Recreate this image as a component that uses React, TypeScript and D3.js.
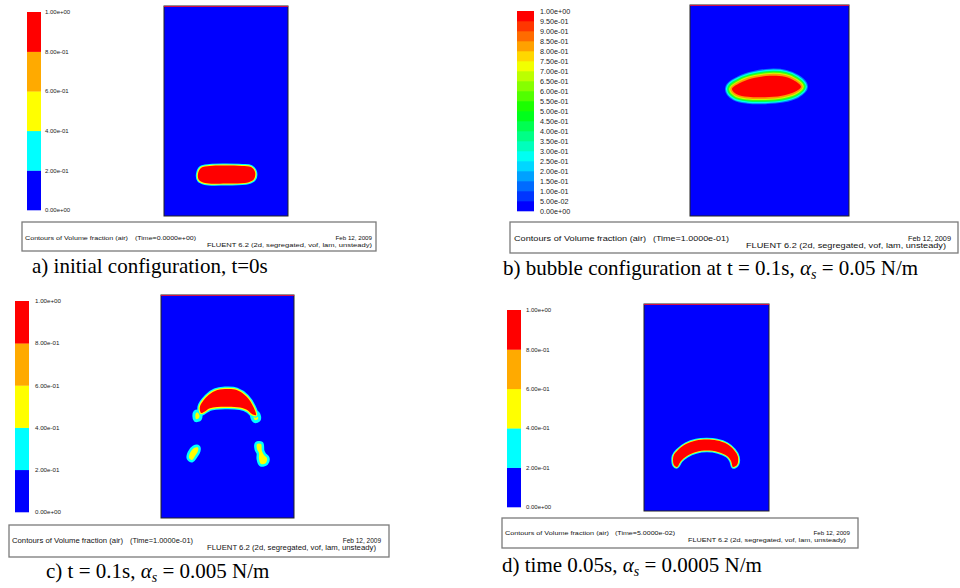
import React from "react";
import * as d3 from "d3";

// colour-bar levels (volume fraction of air)
const levels5 = [0, 0.2, 0.4, 0.6, 0.8, 1.0];
const levels20 = [
  0, 0.05, 0.1, 0.15, 0.2, 0.25, 0.3, 0.35, 0.4, 0.45, 0.5,
  0.55, 0.6, 0.65, 0.7, 0.75, 0.8, 0.85, 0.9, 0.95, 1.0,
];
const colors5 = ["#0000ff", "#00ffff", "#ffff00", "#ffaa00", "#ff0000"];

const timeLabels = ["0.0000e+00", "1.0000e-01", "1.0000e-01", "5.0000e-02"];

// bubble outlines (air fraction ~1), as fractions of domain width / height, y up
const bubbleA: [number, number][] = [
  [0.274, 0.2], [0.298, 0.229], [0.371, 0.238], [0.5, 0.24], [0.629, 0.238],
  [0.702, 0.233], [0.734, 0.21], [0.726, 0.176], [0.677, 0.16], [0.5, 0.155],
  [0.331, 0.157], [0.282, 0.171],
];
const bubbleB: [number, number][] = [
  [0.264, 0.602], [0.327, 0.635], [0.409, 0.655], [0.503, 0.665], [0.597, 0.66],
  [0.66, 0.64], [0.698, 0.613], [0.66, 0.589], [0.577, 0.57], [0.472, 0.563],
  [0.365, 0.565], [0.294, 0.577],
];
const capC: [number, number][] = [
  [0.301, 0.471], [0.293, 0.499], [0.344, 0.544], [0.406, 0.57], [0.481, 0.578],
  [0.569, 0.574], [0.644, 0.544], [0.694, 0.499], [0.714, 0.462], [0.684, 0.466],
  [0.654, 0.482], [0.594, 0.495], [0.481, 0.499], [0.368, 0.492], [0.323, 0.475],
];
const tailLeftC: [number, number][] = [
  [0.263, 0.471], [0.286, 0.471], [0.286, 0.448], [0.263, 0.444],
];
const tailRightC: [number, number][] = [
  [0.692, 0.466], [0.722, 0.466], [0.729, 0.444], [0.707, 0.439],
];
const dropLeftC: [number, number][] = [
  [0.211, 0.269], [0.218, 0.291], [0.248, 0.314], [0.278, 0.316], [0.278, 0.3],
  [0.256, 0.278], [0.233, 0.26],
];
const dropRightC: [number, number][] = [
  [0.722, 0.332], [0.752, 0.332], [0.759, 0.3], [0.774, 0.283], [0.797, 0.269],
  [0.789, 0.247], [0.752, 0.242], [0.737, 0.265], [0.737, 0.291], [0.722, 0.309],
];
const arcD: [number, number][] = [
  [0.24, 0.222], [0.236, 0.266], [0.272, 0.295], [0.336, 0.324], [0.416, 0.341],
  [0.502, 0.345], [0.584, 0.341], [0.664, 0.324], [0.72, 0.295], [0.752, 0.261],
  [0.744, 0.222], [0.712, 0.213], [0.696, 0.242], [0.664, 0.266], [0.592, 0.285],
  [0.504, 0.292], [0.416, 0.285], [0.344, 0.266], [0.296, 0.242], [0.264, 0.213],
];

const rainbow = (t: number) => d3.hsl(240 * (1 - t), 1, 0.5).formatHex();

const fmt = (v: number) => {
  const [m, e] = v.toExponential(2).split("e");
  const n = +e;
  return `${m}e${n < 0 ? "-" : "+"}${String(Math.abs(n)).padStart(2, "0")}`;
};

const sans = "Liberation Sans, Arial, sans-serif";
const serif = "Liberation Serif, Times New Roman, serif";

const ring5 = (outer: number, inner: number) => [
  { color: "#00ffff", w: outer },
  { color: "#ffff00", w: inner },
];
const cyanRing = (w: number) => [{ color: "#00ffff", w }];

const panels = [
  {
    levels: levels5, fine: false, time: timeLabels[0],
    cbar: { x: 27, y: 12, w: 14, h: 198, lx: 45, fs: 6 },
    dom: { x: 164, y: 6, w: 124, h: 210 },
    foot: { x: 22, y: 222, w: 354, h: 29, fs: 6.2, b1: 239.5, b2: 246.5,
      cx: 25, cl: 103, tx: 135, tl: 61, fr: 372, fx: 207, fl: 165 },
    cap: { x: 32, y: 273, pre: "a) initial configuration, t=0s", post: null as string | null },
    bubbles: [{ pts: bubbleA, rings: ring5(4, 2), core: "#ff0000" }],
  },
  {
    levels: levels20, fine: true, time: timeLabels[1],
    cbar: { x: 517, y: 11, w: 17, h: 200, lx: 540, fs: 7.2 },
    dom: { x: 690, y: 5, w: 159, h: 211 },
    foot: { x: 510, y: 222, w: 448, h: 31, fs: 7.3, b1: 240.5, b2: 248,
      cx: 514, cl: 132, tx: 653, tl: 76, fr: 951, fx: 746, fl: 200 },
    cap: { x: 503, y: 275, pre: "b) bubble configuration at t = 0.1s, ", post: " = 0.05 N/m" },
    bubbles: [{
      pts: bubbleB,
      rings: [
        { color: rainbow(0.12), w: 14 },
        { color: rainbow(0.27), w: 12 },
        { color: rainbow(0.42), w: 9.5 },
        { color: rainbow(0.57), w: 7.5 },
        { color: rainbow(0.7), w: 5.5 },
        { color: rainbow(0.85), w: 3.5 },
      ],
      core: "#ff0000",
    }],
  },
  {
    levels: levels5, fine: false, time: timeLabels[2],
    cbar: { x: 15, y: 301, w: 14, h: 211, lx: 35, fs: 6.2 },
    dom: { x: 161, y: 295, w: 133, h: 223 },
    foot: { x: 9, y: 525, w: 380, h: 32, fs: 6.5, b1: 543, b2: 550,
      cx: 12, cl: 111, tx: 130, tl: 63, fr: 381, fx: 207, fl: 169 },
    cap: { x: 46, y: 578, pre: "c) t = 0.1s, ", post: " = 0.005 N/m" },
    bubbles: [
      { pts: tailLeftC, rings: cyanRing(6), core: "#ffff00" },
      { pts: tailRightC, rings: cyanRing(6), core: "#ffff00" },
      { pts: capC, rings: ring5(5, 2.5), core: "#ff0000" },
      { pts: dropLeftC, rings: cyanRing(5), core: "#ffff00" },
      { pts: dropRightC, rings: cyanRing(5), core: "#ffff00" },
    ],
  },
  {
    levels: levels5, fine: false, time: timeLabels[3],
    cbar: { x: 507, y: 310, w: 14, h: 197, lx: 526, fs: 6 },
    dom: { x: 644, y: 304, w: 125, h: 207 },
    foot: { x: 502, y: 518, w: 356, h: 30, fs: 6.2, b1: 535, b2: 542,
      cx: 505, cl: 104, tx: 615, tl: 60, fr: 850, fx: 688, fl: 158 },
    cap: { x: 502, y: 572, pre: "d) time 0.05s, ", post: " = 0.0005 N/m" },
    bubbles: [{ pts: arcD, rings: ring5(3.5, 1.5), core: "#ff0000" }],
  },
];

type P = (typeof panels)[number];

function Panel({ p }: { p: P }) {
  const { cbar, dom, foot, cap } = p;
  const cy = d3.scaleLinear().domain([0, 1]).range([cbar.y + cbar.h, cbar.y]);
  const xs = d3.scaleLinear().domain([0, 1]).range([dom.x, dom.x + dom.w]);
  const ys = d3.scaleLinear().domain([0, 1]).range([dom.y + dom.h, dom.y]);
  const line = d3
    .line<[number, number]>()
    .x((d) => xs(d[0]))
    .y((d) => ys(d[1]))
    .curve(d3.curveCatmullRomClosed.alpha(0.5));
  const nb = p.levels.length - 1;

  return (
    <g>
      {/* colour bar */}
      {p.levels.slice(0, -1).map((lv, i) => (
        <rect
          key={i}
          x={cbar.x}
          y={cy(p.levels[i + 1])}
          width={cbar.w}
          height={cy(lv) - cy(p.levels[i + 1]) + 0.3}
          fill={p.fine ? rainbow(i / (nb - 1)) : colors5[i]}
        />
      ))}
      {p.levels.map((lv, i) => (
        <text
          key={"l" + i}
          x={cbar.lx}
          y={cy(lv)}
          dy="0.35em"
          fontSize={cbar.fs}
          fontFamily={sans}
          fill="#222"
        >
          {fmt(lv)}
        </text>
      ))}

      {/* domain */}
      <rect x={dom.x} y={dom.y} width={dom.w} height={dom.h} fill="#0000ff" stroke="#222" strokeWidth={1} />
      {p.bubbles.map((b, i) => (
        <g key={"b" + i}>
          {b.rings.map((r, j) => (
            <path key={j} d={line(b.pts) || ""} fill={r.color} stroke={r.color} strokeWidth={r.w} strokeLinejoin="round" />
          ))}
          <path d={line(b.pts) || ""} fill={b.core} />
        </g>
      ))}
      <line x1={dom.x} x2={dom.x + dom.w} y1={dom.y + 0.5} y2={dom.y + 0.5} stroke="#d0104a" strokeWidth={1.2} />

      {/* footer */}
      <rect x={foot.x} y={foot.y} width={foot.w} height={foot.h} fill="none" stroke="#7a7a7a" strokeWidth={1.3} />
      <g fontFamily={sans} fontSize={foot.fs} fill="#111">
        <text x={foot.cx} y={foot.b1} textLength={foot.cl} lengthAdjust="spacingAndGlyphs">
          Contours of Volume fraction (air)
        </text>
        <text x={foot.tx} y={foot.b1} textLength={foot.tl} lengthAdjust="spacingAndGlyphs">
          {`(Time=${p.time})`}
        </text>
        <text x={foot.fr} y={foot.b1} textAnchor="end">Feb 12, 2009</text>
        <text x={foot.fx} y={foot.b2} textLength={foot.fl} lengthAdjust="spacingAndGlyphs">
          FLUENT 6.2 (2d, segregated, vof, lam, unsteady)
        </text>
      </g>

      {/* caption */}
      <text x={cap.x} y={cap.y} fontFamily={serif} fontSize={21} fill="#000">
        <tspan>{cap.pre}</tspan>
        {cap.post && (
          <>
            <tspan fontStyle="italic">α</tspan>
            <tspan fontStyle="italic" fontSize={14} dy={4}>s</tspan>
            <tspan dy={-4}>{cap.post}</tspan>
          </>
        )}
      </text>
    </g>
  );
}

export default function App() {
  return (
    <svg
      width={960}
      height={588}
      style={{ position: "absolute", left: 0, top: 0, background: "#fff" }}
    >
      {panels.map((p, i) => (
        <Panel key={i} p={p} />
      ))}
    </svg>
  );
}
